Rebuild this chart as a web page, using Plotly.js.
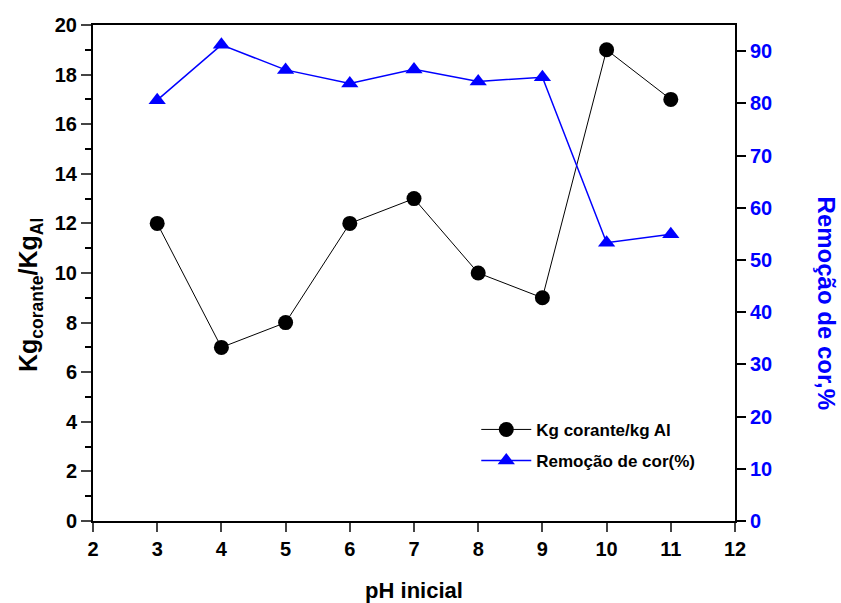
<!DOCTYPE html>
<html>
<head>
<meta charset="utf-8">
<script src="https://cdn.plot.ly/plotly-3.0.1.min.js"></script>
<style>html,body{margin:0;padding:0;background:#fff;}#chart{width:841px;height:603px;}</style>
</head>
<body>
<div id="chart"></div>
<script>
const phValues = [3, 4, 5, 6, 7, 8, 9, 10, 11];
const kgCorante = [12, 7, 8, 12, 13, 10, 9, 19, 17];
const remocaoCor = [80.6, 91.2, 86.4, 83.8, 86.5, 84.2, 85.0, 53.3, 54.9];
const xTicks = [2, 3, 4, 5, 6, 7, 8, 9, 10, 11, 12];

const FONT = "Liberation Sans, Arial, sans-serif";

const traces = [
  {
    x: phValues, y: kgCorante, name: "<b>Kg corante/kg Al</b>",
    type: "scatter", mode: "lines+markers", legendgroup: "a",
    line: {color: "#000", width: 1},
    marker: {symbol: "circle", size: 15, color: "#000"},
    yaxis: "y"
  },
  {
    x: phValues, y: remocaoCor, name: "<b>Remoção de cor(%)</b>",
    type: "scatter", mode: "lines+markers", legendgroup: "b",
    line: {color: "#0000ff", width: 1.5},
    marker: {symbol: "triangle-up", size: 15, color: "#0000ff"},
    yaxis: "y2"
  }
];

const layout = {
  width: 841, height: 603,
  margin: {l: 92.5, r: 106, t: 25, b: 82},
  paper_bgcolor: "#fff", plot_bgcolor: "#fff",
  font: {family: FONT, color: "#000"},
  showlegend: true,
  legend: {
    x: 0.597, y: 0.22, xanchor: "left", yanchor: "top",
    bgcolor: "rgba(0,0,0,0)", font: {family: FONT, size: 17, color: "#000"},
    traceorder: "grouped", tracegroupgap: 6, itemwidth: 50
  },
  xaxis: {
    range: [2, 12], tickvals: xTicks, ticks: "outside", ticklen: 9, tickwidth: 2,
    showline: true, linewidth: 2, linecolor: "#000", mirror: true,
    showgrid: false, zeroline: false,
    tickfont: {family: FONT, size: 20, color: "#000", weight: "bold"},
    title: {text: "<b>pH inicial</b>", font: {family: FONT, size: 22}, standoff: 26}
  },
  yaxis: {
    range: [0, 20], dtick: 2, ticks: "outside", ticklen: 10, tickwidth: 2,
    minor: {dtick: 1, ticks: "outside", ticklen: 6, tickwidth: 2, tickcolor: "#000"},
    showline: true, linewidth: 2, linecolor: "#000",
    showgrid: false, zeroline: false,
    tickfont: {family: FONT, size: 20, color: "#000", weight: "bold"}
  },
  yaxis2: {
    overlaying: "y", side: "right",
    range: [0, 95], dtick: 10, ticks: "outside", ticklen: 9, tickwidth: 2, tickcolor: "#000",
    showline: true, linewidth: 2, linecolor: "#000",
    showgrid: false, zeroline: false,
    tickfont: {family: FONT, size: 20, color: "#0000ff", weight: "bold"}
  },
  annotations: [
    {
      text: "<b>Kg<sub>corante</sub>/Kg<sub>Al</sub></b>",
      xref: "paper", yref: "paper",
      x: -0.097, y: 0.455, xanchor: "center", yanchor: "middle",
      textangle: -90, showarrow: false,
      font: {family: FONT, size: 25, color: "#000"}
    },
    {
      text: "<b>Remoção de cor,%</b>", xref: "paper", yref: "paper",
      x: 1.142, y: 0.44, xanchor: "center", yanchor: "middle",
      textangle: 90, showarrow: false,
      font: {family: FONT, size: 24, color: "#0000ff"}
    }
  ]
};

Plotly.newPlot("chart", traces, layout, {displayModeBar: false, staticPlot: true});
</script>
</body>
</html>
